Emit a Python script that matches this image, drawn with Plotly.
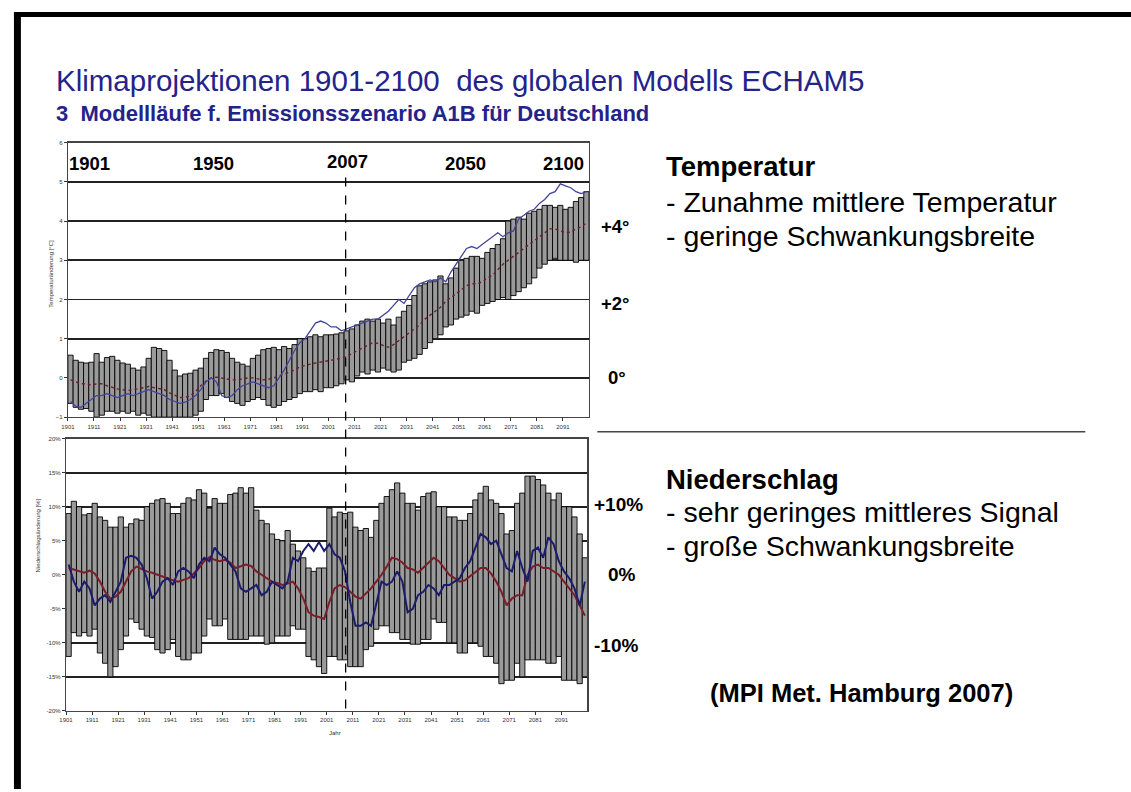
import plotly.graph_objects as go

# ---------------- data ----------------
years = list(range(1901, 2100, 2))          # one bar per two years

temp_high = [0.58, 0.45, 0.40, 0.38, 0.40, 0.62, 0.40, 0.52, 0.55, 0.45,
             0.38, 0.35, 0.25, 0.20, 0.28, 0.50, 0.78, 0.75, 0.70, 0.45,
             0.20, 0.05, 0.10, 0.12, 0.20, 0.25, 0.50, 0.65, 0.72, 0.70,
             0.65, 0.50, 0.40, 0.35, 0.30, 0.50, 0.58, 0.72, 0.75, 0.78,
             0.72, 0.80, 0.75, 0.85, 1.00, 1.00, 1.05, 1.10, 1.05, 1.10,
             1.10, 1.12, 1.15, 1.20, 1.25, 1.35, 1.45, 1.50, 1.45, 1.50,
             1.40, 1.50, 1.35, 1.55, 1.70, 1.85, 2.10, 2.35, 2.40, 2.45,
             2.50, 2.60, 2.40, 2.55, 2.80, 3.00, 3.05, 3.10, 3.10, 3.05,
             3.20, 3.30, 3.40, 3.55, 4.00, 4.05, 4.10, 4.05, 4.20, 4.25,
             4.30, 4.40, 4.40, 4.35, 4.40, 4.30, 4.35, 4.50, 4.60, 4.75]
temp_low = [-0.65, -0.75, -0.80, -0.78, -0.85, -1.0, -0.95, -0.85, -0.85, -0.90,
            -0.85, -0.90, -0.85, -0.95, -0.90, -0.95, -1.0, -1.0, -1.0, -1.0,
            -1.0, -1.0, -1.0, -1.0, -0.95, -0.85, -0.55, -0.45, -0.45, -0.40,
            -0.50, -0.60, -0.65, -0.70, -0.60, -0.55, -0.50, -0.55, -0.70, -0.75,
            -0.70, -0.60, -0.55, -0.50, -0.40, -0.35, -0.35, -0.30, -0.35, -0.25,
            -0.25, -0.20, -0.15, -0.05, -0.10, 0.05, 0.15, 0.10, 0.20, 0.15,
            0.25, 0.20, 0.15, 0.20, 0.40, 0.45, 0.50, 0.60, 0.75, 0.90,
            1.00, 1.10, 1.30, 1.35, 1.50, 1.55, 1.60, 1.70, 1.65, 1.85,
            1.90, 1.95, 2.00, 2.05, 2.00, 2.10, 2.20, 2.30, 2.40, 2.55,
            2.80, 2.90, 3.00, 3.05, 3.00, 3.00, 3.00, 2.95, 3.00, 3.00]
temp_mean = [-0.05, -0.10, -0.15, -0.15, -0.18, -0.15, -0.15, -0.20, -0.25, -0.28,
             -0.30, -0.32, -0.30, -0.28, -0.25, -0.22, -0.25, -0.28, -0.30, -0.38,
             -0.45, -0.50, -0.50, -0.45, -0.35, -0.20, -0.08, 0.00, 0.02, 0.00,
             -0.02, -0.05, -0.05, -0.03, 0.00, 0.00, -0.02, -0.05, -0.03, 0.00,
             0.05, 0.10, 0.15, 0.20, 0.28, 0.32, 0.35, 0.38, 0.40, 0.42,
             0.45, 0.48, 0.50, 0.55, 0.62, 0.70, 0.78, 0.85, 0.90, 0.88,
             0.82, 0.78, 0.85, 0.95, 1.05, 1.15, 1.25, 1.35, 1.50, 1.60,
             1.70, 1.80, 1.95, 2.05, 2.15, 2.25, 2.35, 2.40, 2.40, 2.45,
             2.55, 2.62, 2.75, 2.90, 3.00, 3.10, 3.20, 3.30, 3.40, 3.50,
             3.60, 3.70, 3.80, 3.80, 3.75, 3.70, 3.72, 3.80, 3.85, 3.95]
temp_run = [-0.60, -0.72, -0.75, -0.65, -0.55, -0.45, -0.45, -0.40, -0.45, -0.50,
            -0.45, -0.40, -0.45, -0.40, -0.35, -0.30, -0.35, -0.40, -0.45, -0.55,
            -0.60, -0.65, -0.62, -0.55, -0.45, -0.30, -0.10, 0.00, -0.10, -0.45,
            -0.50, -0.45, -0.30, -0.20, -0.15, -0.10, -0.15, -0.20, -0.25, -0.20,
            0.00, 0.20, 0.45, 0.70, 0.90, 1.00, 1.20, 1.40, 1.45, 1.40,
            1.30, 1.30, 1.20, 1.25, 1.30, 1.35, 1.40, 1.45, 1.50, 1.50,
            1.60, 1.70, 1.85, 2.00, 1.90, 2.10, 2.30, 2.40, 2.45, 2.50,
            2.45, 2.55, 2.45, 2.70, 2.90, 3.10, 3.30, 3.35, 3.30, 3.40,
            3.50, 3.60, 3.70, 3.60, 3.70, 3.75, 4.05, 4.15, 4.25, 4.30,
            4.45, 4.55, 4.70, 4.75, 4.95, 4.90, 4.85, 4.75, 4.70, 4.75]

prec_high = [9.0, 10.8, 10.0, 8.8, 9.0, 10.5, 8.5, 8.0, 7.0, 7.0,
             8.5, 7.0, 7.5, 8.2, 8.0, 10.0, 10.5, 11.0, 11.2, 10.5,
             9.0, 9.0, 10.5, 11.3, 11.0, 12.5, 12.0, 9.8, 11.2, 10.5,
             10.5, 11.8, 12.0, 12.8, 12.0, 12.8, 9.5, 8.0, 7.5, 6.0,
             5.2, 5.0, 6.5, 4.5, 3.5, 2.5, 1.0, 0.5, 1.0, 1.0,
             9.8, 8.5, 9.2, 9.0, 9.2, 7.0, 6.5, 6.8, 5.5, 8.0,
             10.5, 11.5, 12.5, 13.5, 12.0, 10.5, 10.5, 9.5, 11.5, 12.0,
             12.2, 10.0, 10.0, 8.5, 8.5, 8.0, 8.0, 9.0, 11.0, 12.0,
             13.0, 11.0, 10.5, 9.0, 6.0, 6.5, 10.5, 12.0, 14.5, 14.5,
             14.0, 13.2, 12.0, 11.0, 12.0, 10.0, 10.0, 8.5, 6.0, 2.5]
prec_low = [-12.0, -8.5, -9.0, -8.5, -9.0, -8.0, -11.5, -13.0, -15.0, -13.5,
            -11.0, -9.0, -6.5, -7.0, -8.0, -9.0, -9.2, -11.0, -11.5, -11.0,
            -9.5, -12.0, -12.5, -12.5, -11.5, -11.5, -9.0, -6.5, -7.5, -7.5,
            -6.5, -9.5, -9.5, -9.5, -9.5, -9.0, -9.0, -9.0, -10.2, -10.0,
            -9.0, -9.0, -9.0, -7.5, -8.0, -8.0, -12.0, -12.5, -13.5, -14.5,
            -12.0, -12.0, -12.5, -12.5, -13.5, -13.5, -13.5, -11.0, -10.5, -8.0,
            -7.5, -7.5, -8.5, -8.5, -9.5, -9.5, -10.2, -10.2, -9.5, -9.5,
            -6.5, -7.0, -7.0, -10.0, -10.0, -11.5, -11.5, -10.0, -10.0, -10.5,
            -12.0, -12.0, -13.0, -16.0, -15.5, -15.5, -13.0, -15.0, -12.5, -12.5,
            -12.5, -12.5, -13.0, -13.0, -12.0, -15.5, -15.5, -15.5, -16.0, -15.0]
prec_mean = [1.0, 0.8, 0.5, 0.3, 0.6, 0.2, -1.0, -2.5, -3.5, -3.2,
             -2.5, -1.0, 0.5, 1.2, 0.8, 0.5, 0.3, 0.0, -0.3, -0.5,
             -0.8, -1.0, -0.7, -0.5, 0.2, 1.0, 2.0, 2.6, 2.2, 2.0,
             2.2, 1.8, 1.0, 1.2, 1.5, 1.3, 0.5, 0.0, -0.5, -1.0,
             -1.2, -1.5, -1.3, -1.0, -2.0, -3.5, -5.5, -6.0, -6.2, -6.5,
             -4.0, -2.0, -1.5, -1.8, -2.5, -3.2, -3.5, -2.8, -2.0, -1.0,
             0.0, 1.2, 2.5, 2.3, 1.8, 1.0, 0.8, 0.3, 1.0, 1.8,
             2.5, 2.0, 1.0, 0.0, -0.5, -1.0, -0.8, -0.2, 0.3, 1.0,
             1.0, 0.2, -1.0, -2.5, -4.5, -3.5, -3.0, -3.0, 0.0, 1.2,
             1.5, 1.0, 1.0, 0.5, 0.0, -1.0, -2.0, -3.0, -4.5, -6.0]
prec_run = [1.5, -1.0, -2.5, -1.0, -2.0, -4.5, -3.5, -3.0, -4.0, -2.5,
            -1.0, 2.5, 2.8, 2.5, 1.5, -0.5, -3.5, -2.5, -1.0, -0.5,
            -1.5, 0.5, 1.0, 0.5, -0.5, 1.5, 2.5, 2.0, 4.0, 3.0,
            2.5, 1.5, 0.5, -2.0, -2.5, -2.0, -1.5, -3.0, -2.5, -1.0,
            -1.5, -2.0, -1.0, 2.5, 2.0, 3.5, 4.5, 3.5, 4.8, 3.5,
            4.5, 3.0, 2.5, 0.5, -4.0, -7.5, -7.5, -7.0, -7.5, -4.0,
            -1.0, -1.5, -1.0, 0.5, -1.0, -5.5, -5.0, -3.0, -2.5, -1.5,
            -2.0, -3.0, -1.5, -1.5, -1.0, -0.5, 1.0, 2.0, 4.0, 6.0,
            5.5, 4.5, 5.0, 3.0, 1.0, 0.5, 3.5, 1.0, -1.0, 3.5,
            4.0, 2.5, 5.5, 4.5, 2.0, 0.5, -0.5, -2.0, -4.5, -1.0]

tick_years = list(range(1901, 2100, 10))
temp_ticks = [-1, 0, 1, 2, 3, 4, 5, 6]
prec_ticks = [-20, -15, -10, -5, 0, 5, 10, 15, 20]
top_year_marks = ["1901", "1950", "2007", "2050", "2100"]
temp_side = ["+4°", "+2°", "0°"]
prec_side = ["+10%", "0%", "-10%"]

# ---------------- figure ----------------
W, H = 1131, 792
def px(x): return x / W
def py(y): return 1 - y / H

NAVY = "#23238a"
GRAY = "#9a9a9a"
FONT = "Arial, Liberation Sans, sans-serif"
fig = go.Figure()

centers = [y + 1 for y in years]

# temperature panel
fig.add_trace(go.Bar(x=years, y=[h - l for h, l in zip(temp_high, temp_low)], base=temp_low,
                     width=2, offset=0, marker=dict(color=GRAY, line=dict(color="black", width=0.9)),
                     xaxis="x", yaxis="y", showlegend=False, hoverinfo="skip"))
fig.add_trace(go.Scatter(x=centers, y=temp_mean, mode="lines", line=dict(color="#6b2030", width=1.4, dash="dot"),
                         xaxis="x", yaxis="y", showlegend=False, hoverinfo="skip"))
fig.add_trace(go.Scatter(x=centers, y=temp_run, mode="lines", line=dict(color="#44449a", width=1.3),
                         xaxis="x", yaxis="y", showlegend=False, hoverinfo="skip"))

# precipitation panel
fig.add_trace(go.Bar(x=years, y=[h - l for h, l in zip(prec_high, prec_low)], base=prec_low,
                     width=2, offset=0, marker=dict(color=GRAY, line=dict(color="black", width=0.9)),
                     xaxis="x2", yaxis="y2", showlegend=False, hoverinfo="skip"))
fig.add_trace(go.Scatter(x=centers, y=prec_mean, mode="lines", line=dict(color="#7a1f2a", width=2),
                         xaxis="x2", yaxis="y2", showlegend=False, hoverinfo="skip"))
fig.add_trace(go.Scatter(x=centers, y=prec_run, mode="lines", line=dict(color="#1c1c6e", width=2),
                         xaxis="x2", yaxis="y2", showlegend=False, hoverinfo="skip"))

tickfont = dict(family=FONT, size=6, color="#333")
common_x = dict(range=[1901, 2101], tickmode="array", tickvals=tick_years,
                ticktext=[str(t) for t in tick_years], ticks="outside", ticklen=3,
                tickcolor="#333", showline=True, linecolor="#444", linewidth=1.2, mirror=True,
                showgrid=False, zeroline=False, tickfont=tickfont)
common_y = dict(ticks="outside", ticklen=3, tickcolor="#333", showline=True, linecolor="#444",
                linewidth=1.2, mirror=True, showgrid=True, gridcolor="#222", gridwidth=1.6,
                zeroline=False, tickfont=tickfont)

fig.update_layout(
    width=W, height=H, margin=dict(l=0, r=0, t=0, b=0),
    paper_bgcolor="white", plot_bgcolor="white", barmode="overlay", bargap=0,
    xaxis=dict(domain=[px(61.3), px(585.6)], anchor="y", **common_x),
    yaxis=dict(domain=[py(417.3), py(140.7)], anchor="x", range=[-1, 6], tickvals=temp_ticks, **common_y),
    xaxis2=dict(domain=[px(59.4), px(584.1)], anchor="y2", **common_x),
    yaxis2=dict(domain=[py(713.3), py(439)], anchor="x2", range=[-20, 20], tickvals=prec_ticks,
                ticktext=[f"{v}%" for v in prec_ticks], **common_y),
)

shapes = []
# frame
shapes.append(dict(type="rect", xref="paper", yref="paper", x0=px(7), x1=1, y0=py(14), y1=py(9),
                   fillcolor="black", line=dict(width=0)))
shapes.append(dict(type="rect", xref="paper", yref="paper", x0=px(7), x1=px(14), y0=0, y1=py(9),
                   fillcolor="black", line=dict(width=0)))
# divider
shapes.append(dict(type="line", xref="paper", yref="paper", x0=px(594), x1=px(1085), y0=py(432), y1=py(432),
                   line=dict(color="#444", width=1.5)))
# 2007 dashed line
shapes.append(dict(type="line", xref="x", yref="paper", x0=2007.6, x1=2007.6, y0=py(711), y1=py(172),
                   line=dict(color="black", width=1.3, dash="dash")))
fig.update_layout(shapes=shapes)

ann = []
def text(x, y, s, size, bold=False, color="black", xanchor="left"):
    if bold:
        s = f"<b>{s}</b>"
    ann.append(dict(x=px(x), y=py(y), xref="paper", yref="paper", text=s, showarrow=False,
                    xanchor=xanchor, yanchor="middle", borderpad=0,
                    font=dict(family=FONT, size=size, color=color)))

text(48, 78, "Klimaprojektionen 1901-2100  des globalen Modells ECHAM5", 29.5, color=NAVY)
text(48, 111, "3  Modellläufe f. Emissionsszenario A1B für Deutschland", 22, bold=True, color=NAVY)

top_centers = [83.5, 207.5, 343, 461.7, 560]
top_ys = [161.7, 161.7, 160, 161.7, 161.7]
for s, cx, cy in zip(top_year_marks, top_centers, top_ys):
    text(cx, cy, s, 18.5, bold=True, xanchor="center")

for s, cx, cy in zip(temp_side, [597, 597, 604], [225, 303, 377]):
    text(cx, cy, s, 18.5, bold=True)
for s, cx, cy in zip(prec_side, [590, 604, 590], [505, 576, 647]):
    text(cx, cy, s, 19, bold=True)

text(662, 165, "Temperatur", 27.5, bold=True)
text(662, 200.5, "- Zunahme mittlere Temperatur", 28.5)
text(662, 234.5, "- geringe Schwankungsbreite", 28.5)
text(662, 480, "Niederschlag", 27.5, bold=True)
text(662, 513, "- sehr geringes mittleres Signal", 28.5)
text(662, 547.5, "- große Schwankungsbreite", 28.5)
text(860, 695, "(MPI Met. Hamburg 2007)", 25.5, bold=True, xanchor="center")

# axis titles
ann.append(dict(x=px(39), y=py(273), xref="paper", yref="paper", text="Temperaturänderung [°C]",
                textangle=-90, showarrow=False, font=dict(family=FONT, size=6, color="#333")))
ann.append(dict(x=px(26), y=py(576), xref="paper", yref="paper", text="Niederschlagsänderung [%]",
                textangle=-90, showarrow=False, font=dict(family=FONT, size=6, color="#333")))
ann.append(dict(x=px(322), y=py(741), xref="paper", yref="paper", text="Jahr",
                showarrow=False, font=dict(family=FONT, size=6, color="#333")))
fig.update_layout(annotations=ann)

fig.write_html("out.html", config={"displayModeBar": False, "staticPlot": True},
               post_script="document.body.style.margin='0';document.body.style.overflow='hidden';")
